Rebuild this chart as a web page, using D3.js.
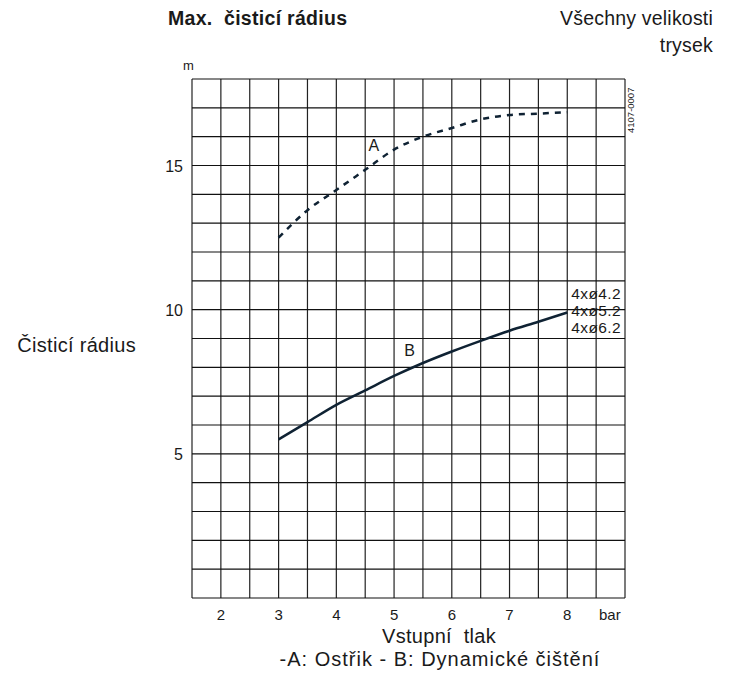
<!DOCTYPE html>
<html>
<head>
<meta charset="utf-8">
<script src="https://cdn.jsdelivr.net/npm/d3@7"></script>
<style>
  body { margin: 0; background: #fff; }
  text { font-family: "Liberation Sans", Arial, sans-serif; fill: #1a1a1a; white-space: pre; }
</style>
</head>
<body>
<div id="chart"></div>
<script>
// pressure in bar
var pressure = [3, 3.5, 4, 4.5, 5, 5.5, 6, 6.5, 7, 7.5, 8];
// A: spraying (dashed), B: dynamic cleaning (solid), radius in m
var radiusA = [12.5, 13.45, 14.15, 14.85, 15.55, 16.0, 16.3, 16.6, 16.75, 16.8, 16.85];
var radiusB = [5.5, 6.1, 6.7, 7.2, 7.7, 8.15, 8.55, 8.92, 9.27, 9.58, 9.9];
var xTicks = [2, 3, 4, 5, 6, 7, 8];
var yTicks = [5, 10, 15];
var nozzleLabels = ["4xø4.2", "4xø5.2", "4xø6.2"];

var W = 731, H = 675;
var margin = {top: 79, right: 106, bottom: 77, left: 192};
var width = W - margin.left - margin.right;
var height = H - margin.top - margin.bottom;
var LINE_COLOR = "#0f2233";

var svg = d3.select("#chart").append("svg")
    .attr("width", W).attr("height", H);
var g = svg.append("g")
    .attr("transform", "translate(" + margin.left + "," + margin.top + ")");

var x = d3.scaleLinear().domain([1.5, 9]).range([0, width]);
var y = d3.scaleLinear().domain([0, 18]).range([height, 0]);

// grid, half bar and one metre per cell
g.selectAll("line.v").data(d3.range(1.5, 9.01, 0.5)).enter().append("line")
    .attr("class", "v")
    .attr("x1", function(d) { return x(d); }).attr("x2", function(d) { return x(d); })
    .attr("y1", 0).attr("y2", height)
    .attr("stroke", "#222").attr("stroke-width", 1.2);
g.selectAll("line.h").data(d3.range(0, 18.01, 1)).enter().append("line")
    .attr("class", "h")
    .attr("y1", function(d) { return y(d); }).attr("y2", function(d) { return y(d); })
    .attr("x1", 0).attr("x2", width)
    .attr("stroke", "#111").attr("stroke-width", 1.2);

// tick labels
g.selectAll("text.xt").data(xTicks).enter().append("text")
    .attr("class", "xt")
    .attr("x", function(d) { return x(d); }).attr("y", height + 22)
    .attr("text-anchor", "middle").attr("font-size", 15)
    .text(function(d) { return d; });
g.append("text").attr("x", x(8.55)).attr("y", height + 22)
    .attr("font-size", 15).text("bar");

g.selectAll("text.yt").data(yTicks).enter().append("text")
    .attr("class", "yt")
    .attr("x", -9).attr("y", function(d) { return y(d) + 6; })
    .attr("text-anchor", "end").attr("font-size", 16)
    .text(function(d) { return d; });
g.append("text").attr("x", -9).attr("y", -9).attr("font-size", 13).text("m");

// curves
var line = d3.line()
    .x(function(d) { return x(d[0]); })
    .y(function(d) { return y(d[1]); })
    .curve(d3.curveMonotoneX);

g.append("path").datum(d3.zip(pressure, radiusA))
    .attr("d", line).attr("fill", "none")
    .attr("stroke", LINE_COLOR).attr("stroke-width", 2.5)
    .attr("stroke-dasharray", "6,6");
g.append("path").datum(d3.zip(pressure, radiusB))
    .attr("d", line).attr("fill", "none")
    .attr("stroke", LINE_COLOR).attr("stroke-width", 2.5);

g.append("text").attr("x", x(4.65)).attr("y", y(15.5)).attr("text-anchor", "middle")
    .attr("font-size", 16).attr("fill", "#333").text("A");
g.append("text").attr("x", x(5.27)).attr("y", y(8.4)).attr("text-anchor", "middle")
    .attr("font-size", 16).attr("fill", "#333").text("B");

g.selectAll("text.nz").data(nozzleLabels).enter().append("text")
    .attr("class", "nz")
    .attr("x", x(8.07)).attr("y", function(d, i) { return y(10) - 11 + i * 17; })
    .attr("font-size", 15.5).attr("letter-spacing", 0.4)
    .text(function(d) { return d; });

// drawing number
g.append("text")
    .attr("transform", "translate(" + (width + 9) + ",54) rotate(-90)")
    .attr("font-size", 9.5).text("4107-0007");

// titles
svg.append("text").attr("x", 168).attr("y", 25)
    .attr("font-size", 19.5).attr("font-weight", "bold").attr("letter-spacing", 0.3)
    .text("Max.  čisticí rádius");
svg.append("text").attr("x", 713).attr("y", 25).attr("text-anchor", "end")
    .attr("font-size", 19.5).attr("letter-spacing", 0.2).text("Všechny velikosti");
svg.append("text").attr("x", 713).attr("y", 52).attr("text-anchor", "end")
    .attr("font-size", 19.5).attr("letter-spacing", 0.2).text("trysek");

svg.append("text").attr("x", 136).attr("y", 352).attr("text-anchor", "end")
    .attr("font-size", 20).attr("letter-spacing", 0.3).text("Čisticí rádius");
svg.append("text").attr("x", 439).attr("y", 643).attr("text-anchor", "middle")
    .attr("font-size", 20).attr("letter-spacing", 0.3).text("Vstupní  tlak");
svg.append("text").attr("x", 440).attr("y", 666).attr("text-anchor", "middle")
    .attr("font-size", 20).attr("letter-spacing", 1).text("-A: Ostřik - B: Dynamické čištění");
</script>
</body>
</html>
